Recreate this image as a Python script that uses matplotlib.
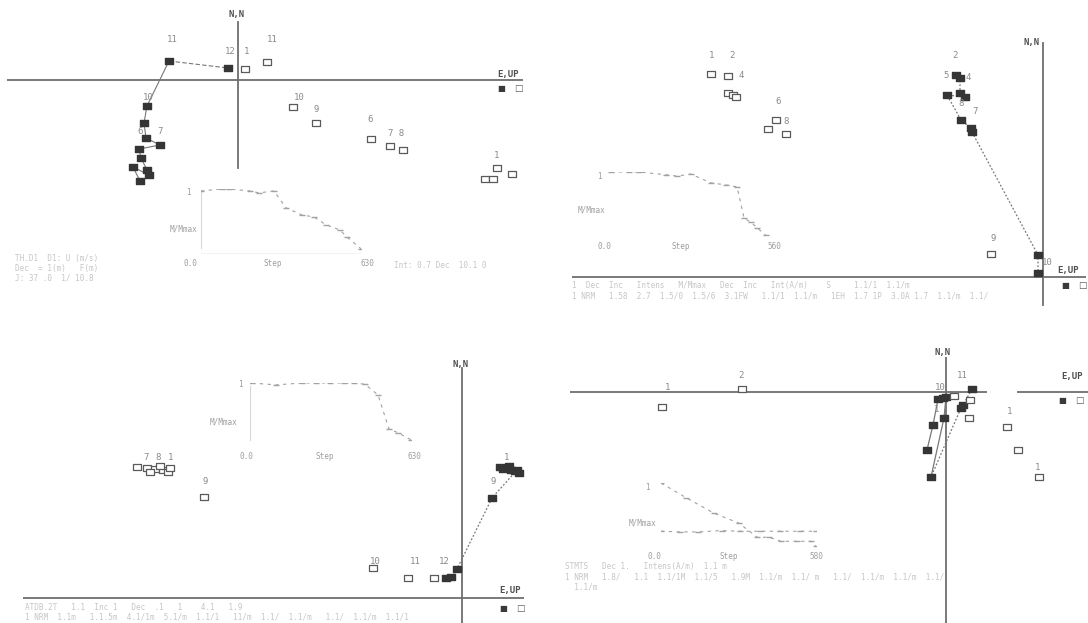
import matplotlib.pyplot as plt
from matplotlib.path import Path

W, H = 1088, 623
MONO = "DejaVu Sans Mono"

# ---- site 1 (upper left) : offsets from the diagram origin ----
s1_hor_x = [-98, -105, -89, -91, -97, -99, -78, -92, -94, -91, -69, -10]
s1_hor_y = [-101, -87, -95, -90, -78, -69, -65, -58, -43, -26, 19, 12]
s1_ver_x = [259, 274, 247, 255, 133, 152, 165, 78, 55, 29, 7]
s1_ver_y = [-88, -94, -99, -99, -59, -66, -70, -43, -27, 18, 11]
s1_labels = [("11", -66, 40), ("12", -8, 28), ("1", 9, 28), ("11", 34, 40),
             ("10", -90, -17), ("6", -98, -52), ("7", -78, -52),
             ("10", 61, -17), ("9", 78, -29), ("6", 132, -40),
             ("7 8", 158, -53), ("1", 259, -76)]
s1_step = [0, 83, 110, 193, 228, 287, 335, 398, 445, 492, 547, 575, 630]
s1_mmax = [0.97, 1.0, 1.0, 0.97, 0.94, 0.97, 0.71, 0.60, 0.57, 0.45, 0.37, 0.26, 0.08]

# ---- site 2 (upper right) ----
s2_hor_x = [-87, -83, -83, -78, -96, -82, -72, -71, -5, -5]
s2_hor_y = [202, 199, 184, 180, 182, 157, 149, 145, 22, 4]
s2_ver_x = [-332, -315, -315, -310, -307, -267, -275, -257, -52]
s2_ver_y = [203, 201, 184, 182, 180, 157, 148, 143, 23]
s2_labels = [("2", -88, 222), ("5", -97, 202), ("4", -75, 199), ("8", -82, 174),
             ("7", -68, 166), ("10", 4, 14), ("9", -50, 38),
             ("1", -331, 222), ("2", -311, 222), ("4", -302, 201),
             ("6", -265, 175), ("8", -257, 155)]
s2_step = [14, 75, 110, 203, 240, 288, 357, 409, 447, 471, 495, 515, 546]
s2_mmax = [1.0, 1.0, 1.0, 0.96, 0.94, 0.97, 0.84, 0.81, 0.78, 0.32, 0.26, 0.18, 0.07]

# ---- site 3 (lower left) ----
s3_hor_x = [38, 46, 53, 57, 49, 41, 47, 55, 30, -5, -11, -16]
s3_hor_y = [131, 130, 127, 125, 128, 129, 132, 128, 100, 29, 21, 20]
s3_ver_x = [-325, -315, -307, -299, -294, -312, -302, -292, -258, -89, -54, -28]
s3_ver_y = [131, 130, 129, 128, 126, 126, 132, 130, 101, 30, 20, 20]
s3_labels = [("1", 45, 141), ("9", 31, 116), ("12", -18, 37), ("11", -47, 37),
             ("10", -87, 37), ("7", -316, 141), ("8", -304, 141),
             ("1", -291, 141), ("9", -257, 117)]
s3_step = [8, 102, 203, 258, 313, 368, 407, 450, 501, 544, 579, 630]
s3_mmax = [1.0, 0.97, 1.0, 1.0, 1.0, 1.0, 1.0, 0.98, 0.81, 0.27, 0.21, 0.10]

# ---- site 4 (lower right) ----
s4_hor_x = [26, 17, 15, -15, -2, 0, -3, -8, -13, -19]
s4_hor_y = [3, -13, -16, -85, -26, -5, -6, -7, -33, -58]
s4_ver_x = [-284, -204, 93, 72, 61, 23, 24, 8]
s4_ver_y = [-15, 3, -85, -58, -35, -26, -8, -4]
s4_labels = [("10", -6, 5), ("11", 16, 16), ("1", -9, -18), ("1", -278, 4),
             ("2", -205, 17), ("1", 64, -19), ("1", 92, -75)]
s4_step = [0, 94, 198, 292, 360, 404, 449, 509, 561, 580]
s4_mmax = [1.0, 0.78, 0.55, 0.40, 0.19, 0.19, 0.13, 0.13, 0.13, 0.06]
s4_step_b = [0, 70, 140, 228, 295, 370, 445, 520, 580]
s4_mmax_b = [0.28, 0.27, 0.27, 0.29, 0.28, 0.28, 0.28, 0.28, 0.28]

# footer lines under each diagram (faint print)
s1_footer = ["TH.D1  D1: U (m/s)", "Dec  = 1(m)   F(m)", "J: 37 .0  1/ 10.8"]
s1_footer_r = "Int: 0.7 Dec  10.1 0"
s2_footer = ["1  Dec  Inc   Intens   M/Mmax   Dec  Inc   Int(A/m)    S     1.1/1  1.1/m",
             "1 NRM   1.58  2.7  1.5/0  1.5/6  3.1FW   1.1/1  1.1/m   1EH  1.7 1P  3.0A 1.7  1.1/m  1.1/"]
s3_footer = ["ATDB.2T   1.1  Inc 1   Dec  .1   1    4.1   1.9",
             "1 NRM  1.1m   1.1.5m  4.1/1m  5.1/m  1.1/1   11/m  1.1/  1.1/m   1.1/  1.1/m  1.1/1"]
s4_footer = ["STMTS   Dec 1.   Intens(A/m)  1.1 m",
             "1 NRM   1.8/   1.1  1.1/1M  1.1/5   1.9M  1.1/m  1.1/ m   1.1/  1.1/m  1.1/m  1.1/",
             "  1.1/m"]

rect = Path([(-1.35, -1), (1.35, -1), (1.35, 1), (-1.35, 1), (-1.35, -1)],
            [Path.MOVETO, Path.LINETO, Path.LINETO, Path.LINETO, Path.CLOSEPOLY])

fig = plt.figure(figsize=(W / 100, H / 100), dpi=100)
fig.patch.set_facecolor("white")


def px_axes(x0, y0, w, h, zorder=1):
    ax = fig.add_axes([x0 / W, 1 - (y0 + h) / H, w / W, h / H], zorder=zorder)
    ax.set_axis_off()
    ax.patch.set_alpha(0)
    return ax


def diagram(bounds, origin, hspans, vspan, hor, ver, labels, line_style,
            nn_xy, eup_xy, key_xy, footer, footer_xy):
    x0, y0, w, h = bounds
    ox, oy = origin
    ax = px_axes(*bounds)
    ax.set_xlim(x0 - ox, x0 + w - ox)
    ax.set_ylim(oy - (y0 + h), oy - y0)
    for a, b in hspans:
        ax.plot([a, b], [0, 0], color="#6e6e6e", lw=1.3, solid_capstyle="butt")
    ax.plot([0, 0], vspan, color="#6e6e6e", lw=1.3)

    hx, hy = hor
    if line_style == "solid":
        ax.plot(hx[:-1], hy[:-1], color="#777777", lw=0.8)
        ax.plot(hx[-2:], hy[-2:], color="#777777", lw=0.8, ls=(0, (4, 2)))
    elif line_style == "mixed":
        ax.plot(hx[:4], hy[:4], color="#777777", lw=0.9, ls=(0, (1.5, 1.5)))
        ax.plot(hx[3:], hy[3:], color="#777777", lw=0.9)
    else:
        ax.plot(hx, hy, color="#777777", lw=0.9, ls=(0, (1.5, 1.5)))
    ax.plot(hx, hy, ls="none", marker=rect, ms=5.2, color="#353535")
    ax.plot(*ver, ls="none", marker=rect, ms=5.8, mfc="white",
            mec="#5a5a5a", mew=0.9)

    for s, tx, ty in labels:
        ax.text(tx, ty, s, family=MONO, fontsize=6.5, color="#8a8a8a",
                ha="center", va="center")
    ax.text(*nn_xy, "N,N", family=MONO, fontsize=6.5, fontweight="bold",
            color="#505050", ha="center", va="center")
    ax.text(*eup_xy, "E,UP", family=MONO, fontsize=6.5, fontweight="bold",
            color="#505050", ha="center", va="center")
    kx, ky = key_xy
    ax.text(kx, ky, "\u25a0", fontsize=6, color="#3a3a3a", ha="center", va="center")
    ax.text(kx + 17, ky, "\u25a1", fontsize=6.5, color="#5a5a5a", ha="center", va="center")

    fx, fy = footer_xy
    for i, line in enumerate(footer):
        ax.text(fx, fy - 10 * i, line, family=MONO, fontsize=5.5,
                color="#c6c6c6", ha="left", va="center")
    return ax


def decay(px_rect, smax, series, labels_xy, base=False, axis=False):
    ax = px_axes(*px_rect, zorder=2)
    ax.set_xlim(0, smax)
    ax.set_ylim(0, 1)
    if base:
        ax.plot([0, smax], [0, 0], color="#c4c4c4", lw=1.0)
    if axis:
        ax.plot([0, 0], [0.1, 0.95], color="#d6d6d6", lw=0.8)
    for st, mm in series:
        ax.plot(st, mm, color="#a2a2a2", lw=0.8, ls=(0, (3, 4)),
                marker="_", ms=4, mew=1.0)
    texts = ["1", "M/Mmax", "0.0", "Step", str(smax)]
    for s, (tx, ty) in zip(texts, labels_xy):
        ax.text(tx, ty, s, family=MONO, fontsize=5.5, color="#9e9e9e",
                ha="center", va="center", clip_on=False)
    return ax


# upper left
diagram((0, 0, 544, 311), (238, 80), [(-231, 285)], [-88, 58],
        (s1_hor_x, s1_hor_y), (s1_ver_x, s1_ver_y), s1_labels, "solid",
        (-1, 65), (270, 6), (263, -9), s1_footer, (-223, -178))
fig.text(394 / W, 1 - 265 / H, s1_footer_r, family=MONO, fontsize=5.5,
         color="#c6c6c6", ha="left", va="center")
decay((201, 189, 160, 65), 630, [(s1_step, s1_mmax)],
      [(-51, 0.94), (-67, 0.38), (-43, -0.15), (284, -0.15), (654, -0.15)],
      base=True, axis=True)

# upper right
diagram((544, 0, 544, 311), (1043, 277), [(-471, 43)], [-28, 234],
        (s2_hor_x, s2_hor_y), (s2_ver_x, s2_ver_y), s2_labels, "dotted",
        (-11, 234), (25, 6), (22, -9), s2_footer, (-471, -9))
decay((607, 172, 163, 68), 560, [(s2_step, s2_mmax)],
      [(-27, 0.93), (-52, 0.44), (-10, -0.10), (254, -0.10), (574, -0.10)])

# lower left
diagram((0, 311, 544, 312), (462, 598), [(-439, 62)], [-25, 230],
        (s3_hor_x, s3_hor_y), (s3_ver_x, s3_ver_y), s3_labels, "dotted",
        (-1, 233), (48, 7), (41, -10), s3_footer, (-437, -9))
decay((250, 383, 161, 63), 630, [(s3_step, s3_mmax)],
      [(-39, 0.97), (-102, 0.38), (-12, -0.16), (294, -0.16), (642, -0.16)],
      axis=True)

# lower right
diagram((544, 311, 544, 312), (946, 392), [(-376, 41), (71, 142)], [-231, 34],
        (s4_hor_x, s4_hor_y), (s4_ver_x, s4_ver_y), s4_labels, "mixed",
        (-3, 39), (126, 15), (116, -9), s4_footer, (-381, -175))
decay((661, 483, 155, 67), 580, [(s4_step, s4_mmax), (s4_step_b, s4_mmax_b)],
      [(-49, 0.94), (-71, 0.40), (-26, -0.10), (254, -0.10), (580, -0.10)])

fig.savefig("out.png", dpi=100, facecolor="white")
